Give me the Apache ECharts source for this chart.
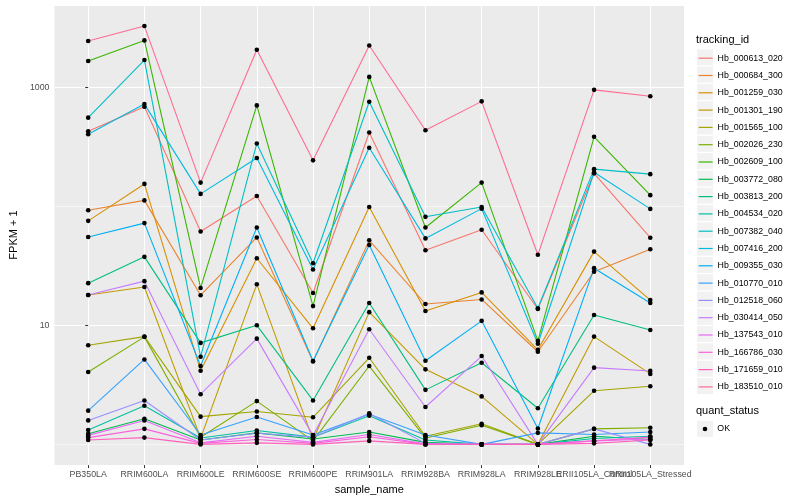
<!DOCTYPE html>
<html><head><meta charset="utf-8">
<script src="https://cdn.jsdelivr.net/npm/echarts@6/dist/echarts.min.js"></script>
<style>html,body{margin:0;padding:0;background:#fff}#c{width:800px;height:500px}</style>
</head><body><div id="c"></div>
<script>
const categories = ['PB350LA','RRIM600LA','RRIM600LE','RRIM600SE','RRIM600PE','RRIM901LA','RRIM928BA','RRIM928LA','RRIM928LE','RRII105LA_Control','RRII105LA_Stressed'];
const trackingIds = ['Hb_000613_020','Hb_000684_300','Hb_001259_030','Hb_001301_190','Hb_001565_100','Hb_002026_230','Hb_002609_100','Hb_003772_080','Hb_003813_200','Hb_004534_020','Hb_007382_040','Hb_007416_200','Hb_009355_030','Hb_010770_010','Hb_012518_060','Hb_030414_050','Hb_137543_010','Hb_166786_030','Hb_171659_010','Hb_183510_010'];
const yTickLabels = ['10','1000'];

const hb_000613_020 = [427, 685, 61.4, 122, 18.7, 416, 42.7, 63.5, 13.7, 189, 54.4];
const hb_000684_300 = [92.6, 112, 17.9, 54.7, 4.97, 51.7, 15.1, 16.5, 6.0, 28.2, 43.5];
const hb_001259_030 = [75.4, 154, 4.16, 36.6, 9.44, 98.7, 13.2, 18.9, 6.23, 41.6, 16.3];
const hb_001301_190 = [18.0, 21.0, 1.13, 22.1, 1.09, 12.9, 4.27, 2.53, 1.0, 8.04, 3.91];
const hb_001565_100 = [6.81, 8.04, 1.71, 1.89, 1.69, 5.34, 1.17, 1.49, 1.0, 2.82, 3.08];
const hb_002026_230 = [4.06, 8.0, 1.15, 2.31, 1.07, 4.55, 1.13, 1.45, 1.0, 1.35, 1.38];
const hb_002609_100 = [1660, 2470, 20.6, 703, 14.5, 1220, 66.3, 158, 7.4, 383, 124];
const hb_003772_080 = [1.23, 1.64, 1.09, 1.25, 1.11, 1.27, 1.04, 1.0, 1.0, 1.17, 1.10];
const hb_003813_200 = [22.6, 37.6, 7.12, 10.0, 2.34, 15.4, 2.87, 4.85, 2.01, 12.2, 9.14];
const hb_004534_020 = [1.32, 2.11, 1.13, 1.31, 1.15, 1.74, 1.09, 1.0, 1.0, 1.12, 1.17];
const hb_007382_040 = [555, 1690, 5.44, 337, 33.2, 754, 81.5, 98.7, 13.9, 205, 186];
const hb_007416_200 = [403, 721, 127, 254, 29.4, 310, 53.7, 95.5, 7.0, 193, 95];
const hb_009355_030 = [55.2, 72.2, 4.55, 66.3, 5.01, 47.3, 5.04, 10.9, 1.36, 30.2, 15.4];
const hb_010770_010 = [1.92, 5.17, 1.2, 1.7, 1.2, 1.79, 1.2, 1.0, 1.25, 1.21, 1.27];
const hb_012518_060 = [1.59, 2.34, 1.09, 1.24, 1.15, 1.82, 1.02, 1.0, 1.0, 1.35, 1.0];
const hb_030414_050 = [18.0, 23.5, 2.64, 7.73, 1.19, 9.26, 2.06, 5.52, 1.0, 4.41, 4.14];
const hb_137543_010 = [1.19, 1.59, 1.03, 1.17, 1.04, 1.21, 1.01, 1.0, 1.0, 1.07, 1.11];
const hb_166786_030 = [1.14, 1.35, 1.02, 1.10, 1.02, 1.16, 1.0, 1.0, 1.0, 1.07, 1.15];
const hb_171659_010 = [1.09, 1.14, 1.0, 1.03, 1.0, 1.07, 1.0, 1.0, 1.0, 1.02, 1.09];
const hb_183510_010 = [2440, 3260, 158, 2060, 243, 2240, 435, 760, 39.1, 950, 840];

const seriesValues = [hb_000613_020, hb_000684_300, hb_001259_030, hb_001301_190, hb_001565_100, hb_002026_230, hb_002609_100, hb_003772_080, hb_003813_200, hb_004534_020, hb_007382_040, hb_007416_200, hb_009355_030, hb_010770_010, hb_012518_060, hb_030414_050, hb_137543_010, hb_166786_030, hb_171659_010, hb_183510_010];
const palette = ['#F8766D','#EA8331','#D89000','#C09B00','#A3A500','#7CAE00','#39B600','#00BB4E','#00BF7D','#00C1A3','#00BFC4','#00BAE0','#00B0F6','#35A2FF','#9590FF','#C77CFF','#E76BF3','#FA62DB','#FF62BC','#FF6C91'];

const FONT = '"Liberation Sans", Arial, Helvetica, sans-serif';
const catIdx = categories.map((c, i) => i);
const n = categories.length;
// label groups on separate axes so that overlapping labels are all drawn (as in the reference)
const labelGroups = [catIdx.slice(0, n - 2), [n - 2], [n - 1]];

const lineSeries = trackingIds.map((name, k) => ({
  name: name, type: 'line', xAxisIndex: 0, yAxisIndex: 0,
  data: seriesValues[k].map((v, i) => [i, v]),
  symbol: 'none', color: palette[k],
  lineStyle: { width: 1.1, color: palette[k] },
  emphasis: { disabled: true }, silent: true, z: 2
}));
const pointSeries = {
  name: 'OK', type: 'scatter', xAxisIndex: 0, yAxisIndex: 0,
  data: seriesValues.flatMap(vals => vals.map((v, i) => [i, v])),
  symbol: 'circle', symbolSize: 4.6, itemStyle: { color: '#000', opacity: 1 },
  emphasis: { disabled: true }, silent: true, z: 3
};

const keyBoxes = trackingIds.map((nm, i) => ({
  type: 'rect', shape: { x: 697, y: 49.3 + 17.3 * i, width: 16, height: 16 },
  style: { fill: '#F2F2F2' }, z: -1, silent: true
}));
keyBoxes.push({ type: 'rect', shape: { x: 697, y: 421, width: 16, height: 16 }, style: { fill: '#F2F2F2' }, z: -1, silent: true });

const labelStyle = { color: '#4D4D4D', fontSize: 8.8, margin: 5, fontFamily: FONT, hideOverlap: false, showMinLabel: true, showMaxLabel: true };

const xAxes = labelGroups.map((grp, g) => ({
  type: 'value', min: -0.6, max: 10.6, position: 'bottom', offset: 0,
  name: g === 0 ? 'sample_name' : '', nameLocation: 'middle', nameGap: 14,
  nameTextStyle: { fontSize: 11, color: '#000', fontFamily: FONT },
  axisLine: { show: false },
  axisTick: { show: g === 0, customValues: catIdx, length: 3, lineStyle: { color: '#333', width: 1 } },
  axisLabel: Object.assign({ customValues: grp, formatter: v => categories[Math.round(v)] }, labelStyle),
  splitLine: { show: g === 0, customValues: catIdx, lineStyle: { color: '#FFFFFF', width: 1.1 } }
}));

const chart = echarts.init(document.getElementById('c'));
chart.setOption({
  animation: false,
  backgroundColor: '#ffffff',
  textStyle: { fontFamily: FONT },
  title: [
    { text: 'tracking_id', left: 696, top: 34, padding: 0, textStyle: { fontSize: 11, fontWeight: 'normal', color: '#000', fontFamily: FONT } },
    { text: 'quant_status', left: 696, top: 405, padding: 0, textStyle: { fontSize: 11, fontWeight: 'normal', color: '#000', fontFamily: FONT } }
  ],
  graphic: keyBoxes,
  grid: { left: 45, right: 116, top: 5, bottom: 31.7, show: true, backgroundColor: '#EBEBEB', borderWidth: 0, containLabel: false },
  legend: [
    { data: trackingIds, orient: 'vertical', left: 698, top: 52.6, itemWidth: 14, itemHeight: 14, itemGap: 6.1,
      padding: 0, selectedMode: false, itemStyle: { opacity: 0 }, lineStyle: { width: 1.2 },
      textStyle: { fontSize: 8.8, color: '#000', fontFamily: FONT, padding: [0, 0, 0, 0] } },
    { data: ['OK'], orient: 'vertical', left: 702.7, top: 424.5, itemWidth: 4.6, itemHeight: 4.6, padding: 0,
      selectedMode: false, icon: 'circle', itemStyle: { color: '#000' },
      textStyle: { fontSize: 8.8, color: '#000', fontFamily: FONT, padding: [0, 0, 0, 5] } }
  ],
  xAxis: xAxes,
  yAxis: [
    { type: 'log', logBase: 10, min: 0.67, max: 4900,
      axisLine: { show: false }, axisTick: { show: false }, axisLabel: { show: false },
      splitLine: { show: true, lineStyle: { color: '#FFFFFF', width: 0.55 } } },
    { type: 'log', logBase: 100, min: 6.7, max: 49000, position: 'left',
      name: 'FPKM + 1', nameLocation: 'middle', nameGap: 27,
      nameTextStyle: { fontSize: 11, color: '#000', fontFamily: FONT },
      axisLine: { show: false },
      axisTick: { show: true, length: 3, lineStyle: { color: '#333', width: 1 } },
      axisLabel: { color: '#4D4D4D', fontSize: 8.8, margin: 5, fontFamily: FONT, showMinLabel: false, showMaxLabel: false,
        formatter: v => (Math.abs(v - 100) < 1e-3 ? yTickLabels[0] : (Math.abs(v - 10000) < 1e-1 ? yTickLabels[1] : '')) },
      splitLine: { show: true, lineStyle: { color: '#FFFFFF', width: 1.1 } } }
  ],
  series: lineSeries.concat([pointSeries])
});
</script>
</body></html>
